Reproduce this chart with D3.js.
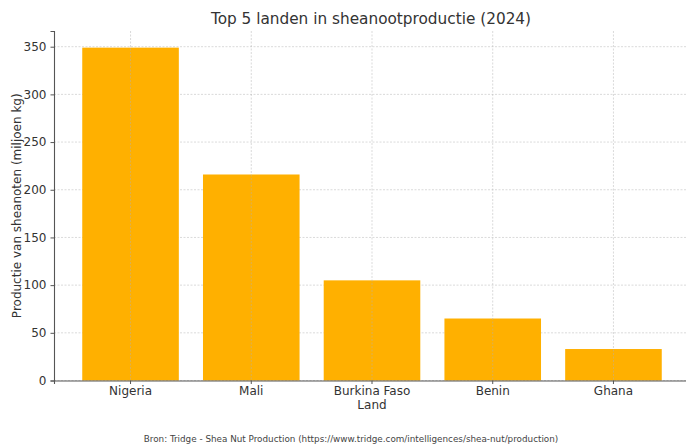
<!DOCTYPE html>
<html>
<head>
<meta charset="utf-8">
<script src="https://cdn.jsdelivr.net/npm/d3@7"></script>
<style>
  body { margin: 0; background: #fff; }
  svg { font-family: "DejaVu Sans", sans-serif; display: block; }
</style>
</head>
<body>
<svg width="686" height="445"></svg>
<script>
const countries = ['Nigeria', 'Mali', 'Burkina Faso', 'Benin', 'Ghana'];
const production = [349, 216, 105, 65, 33];
const yTicks = [0, 50, 100, 150, 200, 250, 300, 350];

const data = countries.map((c, i) => ({ country: c, value: production[i] }));

const svg = d3.select('svg');
const width = +svg.attr('width');
const height = +svg.attr('height');

const margin = { top: 31, right: 0, bottom: 64.5, left: 54 };
const innerWidth = width - margin.left - margin.right;
const innerHeight = height - margin.top - margin.bottom;

// axes area runs slightly past the right edge of the picture
const plotWidth = innerWidth + 4;

const xScale = d3.scaleBand()
  .domain(countries)
  .range([0, plotWidth])
  .paddingInner(0.2)
  .paddingOuter(0.234);

const yScale = d3.scaleLinear()
  .domain([0, d3.max(production) * 1.05])
  .range([innerHeight, 0]);

const g = svg.append('g')
  .attr('transform', `translate(${margin.left}, ${margin.top})`);

// horizontal grid (behind bars)
g.append('g').selectAll('line').data(yTicks)
  .enter().append('line')
    .attr('x1', 0).attr('x2', plotWidth)
    .attr('y1', d => yScale(d)).attr('y2', d => yScale(d))
    .attr('stroke', '#d0d0d0')
    .attr('stroke-width', 0.8)
    .attr('stroke-dasharray', '2,1.5');

// bars
g.selectAll('rect.bar').data(data)
  .enter().append('rect')
    .attr('class', 'bar')
    .attr('x', d => xScale(d.country))
    .attr('y', d => yScale(d.value))
    .attr('width', xScale.bandwidth())
    .attr('height', d => innerHeight - yScale(d.value))
    .attr('fill', '#ffb000');

// vertical grid (drawn over bars)
g.append('g').selectAll('line').data(countries)
  .enter().append('line')
    .attr('x1', d => xScale(d) + xScale.bandwidth() / 2)
    .attr('x2', d => xScale(d) + xScale.bandwidth() / 2)
    .attr('y1', 0).attr('y2', innerHeight)
    .attr('stroke', '#b0b0b0')
    .attr('stroke-opacity', 0.6)
    .attr('stroke-width', 0.8)
    .attr('stroke-dasharray', '2,1.5');

const yAxis = d3.axisLeft(yScale).tickValues(yTicks).tickSize(3.5).tickPadding(4);
const xAxis = d3.axisBottom(xScale).tickSize(3.5).tickPadding(2);

const yG = g.append('g').call(yAxis);
const xG = g.append('g').call(xAxis)
  .attr('transform', `translate(0, ${innerHeight})`);

[yG, xG].forEach(ax => {
  ax.attr('font-family', null);
  ax.select('.domain').attr('stroke', '#555').attr('stroke-width', 1.1);
  ax.selectAll('.tick line').attr('stroke', '#555');
  ax.selectAll('.tick text').attr('fill', '#333').style('font-size', '12px');
});

// title
svg.append('text')
  .attr('x', margin.left + plotWidth / 2 - 1)
  .attr('y', 24)
  .attr('text-anchor', 'middle')
  .attr('fill', '#333')
  .style('font-size', '15.3px')
  .text('Top 5 landen in sheanootproductie (2024)');

// axis labels
svg.append('text')
  .attr('x', margin.left + plotWidth / 2)
  .attr('y', 409)
  .attr('text-anchor', 'middle')
  .attr('fill', '#333')
  .style('font-size', '12px')
  .text('Land');

svg.append('text')
  .attr('transform', `translate(21, ${margin.top + innerHeight / 2}) rotate(-90)`)
  .attr('text-anchor', 'middle')
  .attr('fill', '#333')
  .style('font-size', '12px')
  .text('Productie van sheanoten (miljoen kg)');

// source
svg.append('text')
  .attr('x', 351)
  .attr('y', 442)
  .attr('text-anchor', 'middle')
  .attr('fill', '#444')
  .style('font-size', '8.8px')
  .text('Bron: Tridge - Shea Nut Production (https://www.tridge.com/intelligences/shea-nut/production)');
</script>
</body>
</html>
